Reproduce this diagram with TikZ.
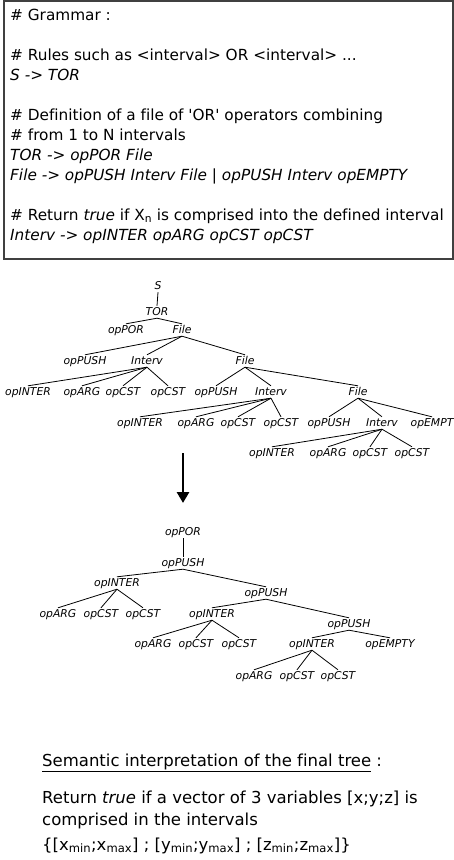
\documentclass[tikz,border=0pt]{standalone}
\usepackage{fontspec}
\setmainfont{DejaVu Sans}[Ligatures={TeX,NoCommon}]
\usetikzlibrary{arrows.meta}
\tikzset{
  boxtxt/.style={anchor=base west, inner sep=0pt, font=\fontsize{15.3}{18}\selectfont},
  boxit/.style={boxtxt, font=\fontsize{15.3}{18}\selectfont\itshape},
  tn/.style={inner sep=1pt, text height=8pt, text depth=2pt, font=\fontsize{10.8}{12}\selectfont\itshape},
  edge/.style={draw=black, line width=0.8pt},
  bottxt/.style={anchor=base west, inner sep=0pt, font=\fontsize{16.5}{19}\selectfont},
}
\begin{document}
\begin{tikzpicture}[x=1pt,y=-1pt]
\useasboundingbox (0,0) rectangle (454,860);
% grammar box
\draw[draw=black!75, line width=1.4pt] (4,1) rectangle (453,259);
\node[boxtxt] (g1) at (10,20) {\# Grammar :};
\node[boxtxt] (g2) at (10,60) {\# Rules such as <interval> OR <interval> ...};
\node[boxit]  (g3) at (10,80) {S -> TOR};
\node[boxtxt] (g4) at (10,120) {\# Definition of a file of \textquotesingle OR\textquotesingle{} operators combining};
\node[boxtxt] (g5) at (10,140) {\# from 1 to N intervals};
\node[boxit]  (g6) at (10,160) {TOR -> opPOR File};
\node[boxit]  (g7) at (10,180) {File -> opPUSH Interv File | opPUSH Interv opEMPTY};
\node[boxtxt] (g8) at (10,220) {\# Return \textit{true} if X\textsubscript{n} is comprised into the defined interval};
\node[boxit]  (g9) at (10,240) {Interv -> opINTER opARG opCST opCST};

% tree 1
\node[tn] (a0) at (158,286) {S};
\node[tn] (a1) at (157,312) {TOR};
\node[tn] (a2) at (126,330) {opPOR};
\node[tn] (a3) at (182,330) {File};
\node[tn] (a4) at (85,361) {opPUSH};
\node[tn] (a5) at (147,361) {Interv};
\node[tn] (a6) at (245,361) {File};
\node[tn] (a7) at (28,392) {opINTER};
\node[tn] (a8) at (82,392) {opARG};
\node[tn] (a9) at (123,392) {opCST};
\node[tn] (a10) at (168,392) {opCST};
\node[tn] (a11) at (216,392) {opPUSH};
\node[tn] (a12) at (271,392) {Interv};
\node[tn] (a13) at (358,392) {File};
\node[tn] (a14) at (140,423) {opINTER};
\node[tn] (a15) at (196,423) {opARG};
\node[tn] (a16) at (238,423) {opCST};
\node[tn] (a17) at (281,423) {opCST};
\node[tn] (a18) at (329,423) {opPUSH};
\node[tn] (a19) at (382,423) {Interv};
\node[tn] (a20) at (432,423) {opEMPT};
\node[tn] (a21) at (272,453) {opINTER};
\node[tn] (a22) at (328,453) {opARG};
\node[tn] (a23) at (370,453) {opCST};
\node[tn] (a24) at (412,453) {opCST};
\foreach \p/\c in {a0/a1,a1/a2,a1/a3,a3/a4,a3/a5,a3/a6,a5/a7,a5/a8,a5/a9,a5/a10,
  a6/a11,a6/a12,a6/a13,a12/a14,a12/a15,a12/a16,a12/a17,a13/a18,a13/a19,a13/a20,
  a19/a21,a19/a22,a19/a23,a19/a24}
  \draw[edge] (\p.south) -- (\c.north);

% arrow
\coordinate (ar1) at (183,453);
\coordinate (ar2) at (183,503);
\draw[line width=2.8pt, -{Triangle[length=11pt,width=12pt]}] (ar1) -- (ar2);

% tree 2
\node[tn] (b0) at (183,532) {opPOR};
\node[tn] (b1) at (183,563) {opPUSH};
\node[tn] (b2) at (117,583) {opINTER};
\node[tn] (b3) at (266,593) {opPUSH};
\node[tn] (b4) at (58,614) {opARG};
\node[tn] (b5) at (101,614) {opCST};
\node[tn] (b6) at (143,614) {opCST};
\node[tn] (b7) at (212,614) {opINTER};
\node[tn] (b8) at (349,624) {opPUSH};
\node[tn] (b9) at (153,644) {opARG};
\node[tn] (b10) at (196,644) {opCST};
\node[tn] (b11) at (239,644) {opCST};
\node[tn] (b12) at (312,644) {opINTER};
\node[tn] (b13) at (390,644) {opEMPTY};
\node[tn] (b14) at (254,676) {opARG};
\node[tn] (b15) at (297,676) {opCST};
\node[tn] (b16) at (338,676) {opCST};
\foreach \p/\c in {b0/b1,b1/b2,b1/b3,b2/b4,b2/b5,b2/b6,b3/b7,b3/b8,b7/b9,b7/b10,b7/b11,
  b8/b12,b8/b13,b12/b14,b12/b15,b12/b16}
  \draw[edge] (\p.south) -- (\c.north);

% bottom text
\node[bottxt] (t1) at (42,766) {\underline{Semantic interpretation of the final tree} :};
\node[bottxt] (t2) at (42,803) {Return \textit{true} if a vector of 3 variables [x;y;z] is};
\node[bottxt] (t3) at (42,825) {comprised in the intervals};
\node[bottxt] (t4) at (42,850) {\{[x\textsubscript{min};x\textsubscript{max}] ; [y\textsubscript{min};y\textsubscript{max}] ; [z\textsubscript{min};z\textsubscript{max}]\}};
\end{tikzpicture}
\end{document}
